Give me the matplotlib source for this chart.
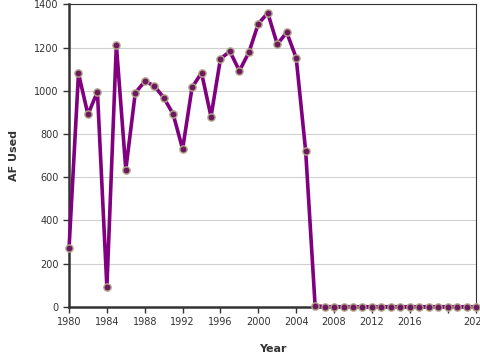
import matplotlib
matplotlib.use("Agg")
import matplotlib.pyplot as plt

# annual water use
years = list(range(1980, 2024))
af_used = [270, 1080, 890, 995, 90, 1212, 635, 990, 1043, 1023, 968, 892, 730, 1015, 1083, 880,
           1148, 1182, 1092, 1177, 1310, 1360, 1215, 1270, 1152, 722, 5,
           0, 0, 0, 0, 0, 0, 0, 0, 0, 0, 0, 0, 0, 0, 0, 0, 0]
xticks = [1980, 1984, 1988, 1992, 1996, 2000, 2004, 2008, 2012, 2016, 2020, 2023]
xtick_labels = ["1980", "1984", "1988", "1992", "1996", "2000", "2004", "2008", "2012", "2016", "", "2023"]
yticks = [0, 200, 400, 600, 800, 1000, 1200, 1400]

plt.rcParams['font.family'] = ['DejaVu Sans']
fig = plt.figure(figsize=(4.8, 3.6), dpi=100)
ax = fig.add_axes([0.1438, 0.148, 0.8479, 0.840])

ax.plot(years, af_used, color='#800080', linewidth=2.6, marker='o', markersize=5.2,
        markerfacecolor='#6b1a5e', markeredgecolor='#b3a58a', markeredgewidth=1.0,
        clip_on=False, zorder=3)

ax.set_xlim(1980, 2023)
ax.set_ylim(0, 1400)
ax.set_xticks(xticks)
ax.set_xticklabels(xtick_labels)
ax.set_yticks(yticks)
ax.tick_params(labelsize=7, colors='#333333', length=4, width=1)
ax.yaxis.grid(True, color='#d0d0d0', linewidth=0.8)
ax.set_axisbelow(True)

for s in ['left', 'bottom']:
    ax.spines[s].set_linewidth(1.8)
    ax.spines[s].set_color('#333333')
for s in ['top', 'right']:
    ax.spines[s].set_linewidth(0.8)
    ax.spines[s].set_color('#333333')

ax.set_xlabel("Year", fontsize=8, fontweight='bold', color='#333333', labelpad=12)
ax.set_ylabel("AF Used", fontsize=8, fontweight='bold', color='#333333', labelpad=11)

fig.savefig("out.png", dpi=100)
